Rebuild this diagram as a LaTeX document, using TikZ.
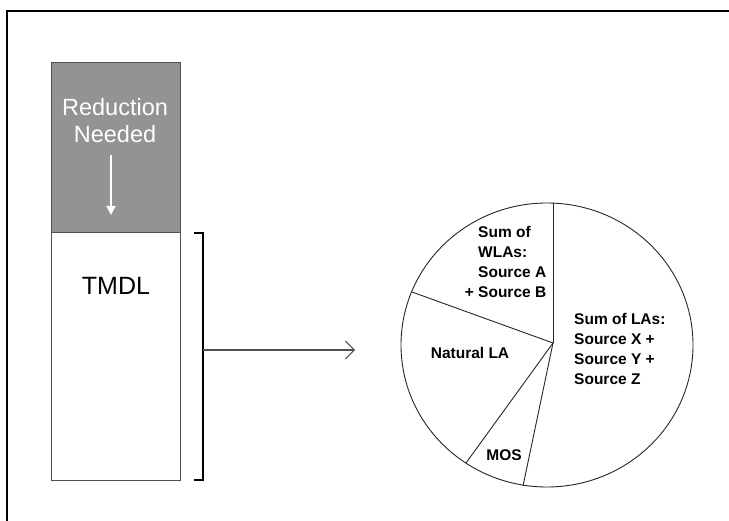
\documentclass[tikz,border=0pt]{standalone}
\usepackage{fontspec}
\setmainfont{Liberation Sans}
\usetikzlibrary{arrows.meta}
\definecolor{needgray}{HTML}{939393}
\definecolor{edgegray}{HTML}{505050}
\begin{document}
\begin{tikzpicture}[x=1pt,y=-1pt,
  boxline/.style={draw=edgegray,line width=1pt,inner sep=0pt},
  pielabel/.style={font=\fontsize{15.5}{20}\selectfont\bfseries,align=left,inner sep=0pt},
  pieline/.style={draw=black!85,line width=0.9pt},
]
\useasboundingbox (0,0) rectangle (729,521);
% frame
\coordinate (f1) at (7,521);
\coordinate (f2) at (7,11);
\coordinate (f3) at (729,11);
\draw[line width=2pt] (f1) -- (f2) -- (f3);
% stacked column
\node[boxline,fill=needgray,minimum width=129pt,minimum height=170pt,anchor=north west] (need) at (51,62) {};
\node[boxline,fill=white,minimum width=129pt,minimum height=248pt,anchor=north west] (tmdl) at (51,232) {};
\node[text=white,font=\fontsize{23.5}{27}\selectfont,align=center,inner sep=0pt] (needtxt) at (115,121) {Reduction\\Needed};
\coordinate (a1) at (111,155);
\coordinate (a2) at (111,215);
\draw[white,line width=2pt,-{Triangle[length=9pt,width=9pt]}] (a1) -- (a2);
\node[font=\fontsize{25}{30}\selectfont,inner sep=0pt] (tmdltxt) at (116,286) {TMDL};
% bracket and arrow
\coordinate (b1) at (194,233);
\coordinate (b2) at (203,233);
\coordinate (b3) at (203,480);
\coordinate (b4) at (194,480);
\draw[line width=1.2pt] (b1) -- (b2) -- (b3) -- (b4);
\coordinate (bm) at (203,350);
\coordinate (tip) at (355,350);
\draw[edgegray,line width=1.2pt,-{Straight Barb[length=9pt,width=18pt,line width=1pt]}] (bm) -- (tip);
% pie
\coordinate (hub) at (553,343);
\coordinate (pc) at (547,345);
\draw[pieline] (pc) ellipse [x radius=146pt,y radius=142pt];
\coordinate (p1) at (553,203);
\coordinate (p2) at (412,292);
\coordinate (p3) at (466,463);
\coordinate (p4) at (523,486);
\draw[pieline] (hub) -- (p1);
\draw[pieline] (hub) -- (p2);
\draw[pieline] (hub) -- (p3);
\draw[pieline] (hub) -- (p4);
\node[pielabel,anchor=north west] (wla) at (478,226) {Sum of\\WLAs:\\Source A\\\llap{+ }Source B};
\node[pielabel,anchor=north west] (la) at (574,313) {Sum of LAs:\\Source X +\\Source Y +\\Source Z};
\node[pielabel] (nat) at (470,353) {Natural LA};
\node[pielabel] (mos) at (504,455) {MOS};
\end{tikzpicture}
\end{document}
